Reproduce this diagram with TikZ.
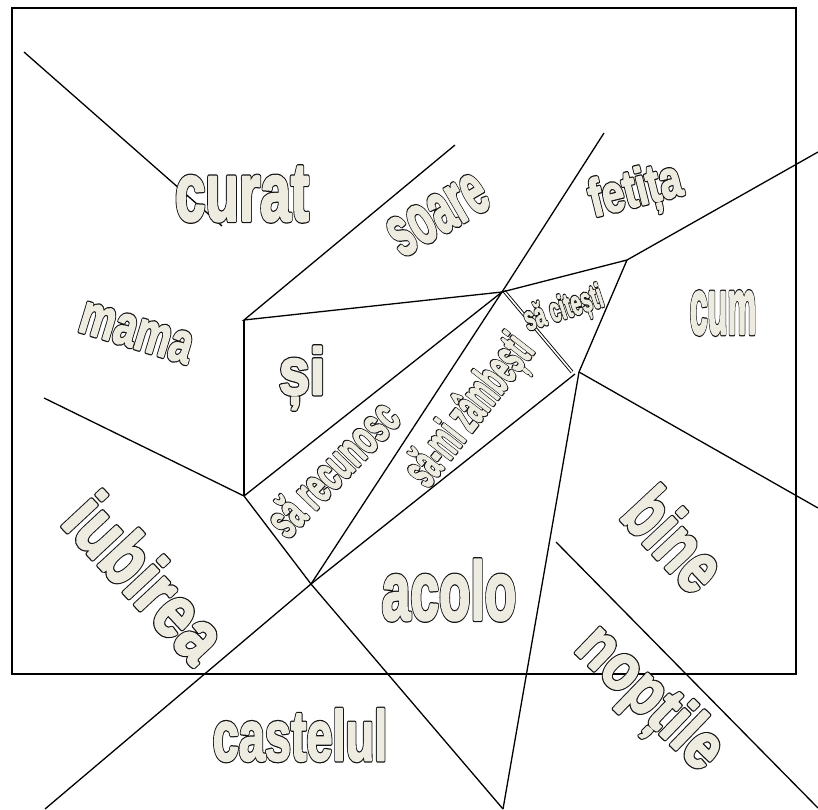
\documentclass[tikz,border=0pt]{standalone}
\usepackage{fontspec}
\usepackage{graphicx}
\newfontfamily\wfont{Liberation Sans}
\definecolor{wcream}{HTML}{EEECE1}
\newcommand\waout[1]{\rlap{\special{pdf:literal direct 2 Tr \wdw\space w 1 j 0.08 0.08 0.08 RG}#1}\special{pdf:literal direct 2 Tr \wcw\space w 1 j 0.933 0.925 0.882 RG}#1\special{pdf:literal direct 0 Tr}}
\newcommand\wword[7]{\pgfmathsetmacro\wcw{0.03*#5}\pgfmathsetmacro\wdw{\wcw+2.5}%
  \node[wtext,rotate=#4] (#1) at (#2,#3) {\scalebox{#6}[1]{\fontsize{#5}{#5}\selectfont\wfont\bfseries\waout{#7}}};}
\tikzset{
  wtext/.style={inner sep=0pt,text=wcream},
  wline/.style={line width=1.3pt,black},
}
\begin{document}
\begin{tikzpicture}[x=1pt,y=-1pt]
\useasboundingbox (0,0) rectangle (818,809);
\draw[wline] (12,8) rectangle (796,674);
% coordinates
\coordinate (A) at (24,52);
\coordinate (Ae) at (222,226);
\coordinate (V1) at (244,320);
\coordinate (B) at (455,145);
\coordinate (V3) at (502,292);
\coordinate (V4) at (244,496);
\coordinate (C) at (44,398);
\coordinate (V5) at (311,584);
\coordinate (V2) at (579,372);
\coordinate (V2b) at (575,374);
\coordinate (V2c) at (572,372);
\coordinate (V3b) at (504,291);
\coordinate (D) at (627,260);
\coordinate (E) at (818,152);
\coordinate (F) at (604,133);
\coordinate (G) at (818,508);
\coordinate (H) at (503,809);
\coordinate (I) at (45,809);
\coordinate (J) at (556,542);
\coordinate (K) at (818,808);
% lines
\draw[wline] (A) -- (Ae);
\draw[wline] (B) -- (V1) -- (V3);
\draw[wline] (V1) -- (V4);
\draw[wline] (C) -- (V4) -- (V5);
\draw[wline] (V4) -- (V3);
\draw[wline] (V5) -- (V3);
\draw[wline] (V5) -- (V2b);
\draw[line width=0.9pt,double,double distance=1.6pt] (V3b) -- (V2c);
\draw[wline] (V3) -- (D) -- (V2);
\draw[wline] (D) -- (E);
\draw[wline] (V3) -- (F);
\draw[wline] (V2) -- (G);
\draw[wline] (V2) -- (H);
\draw[wline] (V5) -- (I);
\draw[wline] (V5) -- (H);
\draw[wline] (J) -- (K);
% words
\wword{curat}{242}{194}{0}{83}{0.66}{curat}
\wword{soare}{438}{215}{30}{72}{0.55}{soare}
\wword{fetita}{636}{193}{14}{53}{0.74}{fetița}
\wword{cum}{723}{313}{0}{79}{0.41}{cum}
\wword{mama}{136}{333}{-17}{57}{0.7}{mama}
\wword{si}{302}{378}{0}{66}{0.84}{și}
\wword{recunosc}{332}{468}{46}{49}{0.58}{să recunosc}
\wword{zambesti}{471}{412}{52}{51}{0.48}{să-mi zâmbești}
\wword{citesti}{564}{310}{18}{34}{0.56}{să citești}
\wword{iubirea}{146}{577}{-47}{75}{0.8}{iubirea}
\wword{acolo}{449}{590}{0}{83}{0.62}{acolo}
\wword{bine}{675}{539}{-47}{74}{0.72}{bine}
\wword{noptile}{648}{700}{-44}{66}{0.82}{nopțile}
\wword{castelul}{300}{735}{0}{71}{0.66}{castelul}
\end{tikzpicture}
\end{document}
